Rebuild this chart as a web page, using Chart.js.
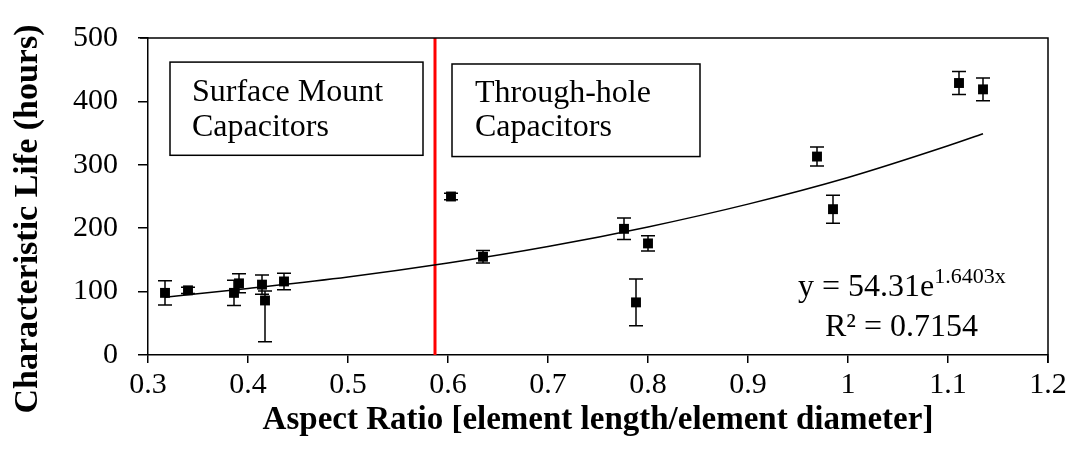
<!DOCTYPE html>
<html>
<head>
<meta charset="utf-8">
<script src="https://cdn.jsdelivr.net/npm/chart.js@4/dist/chart.umd.min.js"></script>
<style>
  html, body { margin: 0; padding: 0; background: #fff; }
  #wrap { width: 1073px; height: 459px; }
</style>
</head>
<body>
<div id="wrap"><canvas id="c" width="1073" height="459"></canvas></div>
<script>
// ---- data ----
const aspectRatio = [0.317, 0.340, 0.386, 0.391, 0.414, 0.417, 0.436, 0.603, 0.635, 0.776, 0.788, 0.800, 0.969, 0.985, 1.111, 1.135];
const charLife    = [98, 102, 98, 113, 111, 86, 116, 250, 155, 199, 83, 176, 313, 230, 429, 419];
const errPlus     = [19, 5, 20, 15, 15, 15, 13, 5, 10, 17, 37, 12, 15, 22, 18, 18];
const errMinus    = [19, 5, 20, 15, 15, 65, 13, 5, 10, 17, 37, 12, 15, 22, 18, 18];

// exponential trendline, values
const trendX = [0.317, 0.4, 0.5, 0.6, 0.7, 0.8, 0.9, 1.0, 1.1, 1.135];
const trendY = [91, 105, 123, 145, 171, 202, 238, 280, 330, 349];

// boundary between SMD and through-hole
const boundaryX = [0.587, 0.587];
const boundaryY = [0, 500];

const xTicks = [0.3, 0.4, 0.5, 0.6, 0.7, 0.8, 0.9, 1.0, 1.1, 1.2];
const yTicks = [0, 100, 200, 300, 400, 500];

const xTitle = 'Aspect Ratio [element length/element diameter]';
const yTitle = 'Characteristic Life (hours)';
const leftLabel = ['Surface Mount', 'Capacitors'];
const rightLabel = ['Through-hole', 'Capacitors'];
const eqMain = 'y = 54.31e';
const eqExp = '1.6403x';
const r2Text = 'R\u00B2 = 0.7154';

const SERIF = '"Liberation Serif", "Times New Roman", serif';

const points = aspectRatio.map((x, i) => ({ x, y: charLife[i] }));
const trend = trendX.map((x, i) => ({ x, y: trendY[i] }));
const boundary = boundaryX.map((x, i) => ({ x, y: boundaryY[i] }));

const errorBars = {
  id: 'errorBars',
  afterDatasetsDraw(chart) {
    const xs = chart.scales.x, ys = chart.scales.y;
    const ctx = chart.ctx;
    ctx.save();
    ctx.strokeStyle = '#000';
    ctx.lineWidth = 1.5;
    aspectRatio.forEach((xv, i) => {
      const px = xs.getPixelForValue(xv);
      const top = ys.getPixelForValue(charLife[i] + errPlus[i]);
      const bot = ys.getPixelForValue(charLife[i] - errMinus[i]);
      ctx.beginPath();
      ctx.moveTo(px, top); ctx.lineTo(px, bot);
      ctx.moveTo(px - 7, top); ctx.lineTo(px + 7, top);
      ctx.moveTo(px - 7, bot); ctx.lineTo(px + 7, bot);
      ctx.stroke();
    });
    ctx.restore();
  }
};

const frameAndNotes = {
  id: 'frameAndNotes',
  afterDraw(chart) {
    const ctx = chart.ctx;
    const a = chart.chartArea;
    const xs = chart.scales.x, ys = chart.scales.y;
    ctx.save();
    ctx.strokeStyle = '#000';
    ctx.lineWidth = 1.5;
    // top and right frame
    ctx.beginPath();
    ctx.moveTo(a.left - 8, a.top); ctx.lineTo(a.right, a.top); ctx.lineTo(a.right, a.bottom + 8);
    ctx.stroke();

    // y axis title
    ctx.save();
    ctx.fillStyle = '#000';
    ctx.font = 'bold 34px ' + SERIF;
    ctx.textAlign = 'center';
    ctx.textBaseline = 'middle';
    ctx.translate(28, 219);
    ctx.rotate(-Math.PI / 2);
    ctx.fillText(yTitle, 0, 0);
    ctx.restore();

    // text boxes
    const box = (x0, x1, y0, y1) => {
      const l = xs.getPixelForValue(x0), r = xs.getPixelForValue(x1);
      const t = ys.getPixelForValue(y0), b = ys.getPixelForValue(y1);
      ctx.strokeRect(l, t, r - l, b - t);
    };
    box(0.322, 0.575, 462, 315);
    box(0.604, 0.852, 459, 313);

    ctx.fillStyle = '#000';
    ctx.font = '32px ' + SERIF;
    ctx.textBaseline = 'alphabetic';
    ctx.textAlign = 'left';
    const lx = xs.getPixelForValue(0.344), rx = xs.getPixelForValue(0.627);
    ctx.fillText(leftLabel[0], lx, ys.getPixelForValue(401));
    ctx.fillText(leftLabel[1], lx, ys.getPixelForValue(346));
    ctx.fillText(rightLabel[0], rx, ys.getPixelForValue(399));
    ctx.fillText(rightLabel[1], rx, ys.getPixelForValue(345));

    // equation
    const ex = xs.getPixelForValue(0.950);
    const ey = ys.getPixelForValue(93);
    ctx.fillText(eqMain, ex, ey);
    const w = ctx.measureText(eqMain).width;
    ctx.font = '22px ' + SERIF;
    ctx.fillText(eqExp, ex + w, ey - 13);
    ctx.font = '32px ' + SERIF;
    ctx.fillText(r2Text, xs.getPixelForValue(0.977), ys.getPixelForValue(30));
    ctx.restore();
  }
};

new Chart(document.getElementById('c'), {
  type: 'scatter',
  data: {
    datasets: [
      {
        type: 'line', data: trend, borderColor: '#000', borderWidth: 1.5,
        pointRadius: 0, fill: false, tension: 0.4, cubicInterpolationMode: 'monotone'
      },
      {
        type: 'line', data: boundary, borderColor: '#ff0000', borderWidth: 3,
        pointRadius: 0, fill: false, clip: false
      },
      {
        data: points, pointStyle: 'rect', pointRadius: 7, pointBorderWidth: 0,
        backgroundColor: '#000', borderColor: '#000'
      }
    ]
  },
  options: {
    responsive: false,
    animation: false,
    events: [],
    layout: { padding: { top: 23, right: 25, left: 0, bottom: 0 } },
    plugins: { legend: { display: false }, tooltip: { enabled: false } },
    scales: {
      x: {
        type: 'linear', min: 0.3, max: 1.2,
        afterBuildTicks: s => { s.ticks = xTicks.map(v => ({ value: v })); },
        afterFit: s => { s.height = 104; },
        grid: { drawOnChartArea: false, drawTicks: true, tickLength: 8, color: '#000', lineWidth: 1.5 },
        border: { color: '#000', width: 1.5 },
        ticks: {
          color: '#000', padding: 4, maxRotation: 0, autoSkip: false,
          font: { family: SERIF, size: 30 },
          callback: v => String(Number(v.toFixed(1)))
        },
        title: {
          display: true, text: xTitle, color: '#000',
          font: { family: SERIF, size: 33, weight: 'bold' },
          padding: { top: 0, bottom: 19 }
        }
      },
      y: {
        type: 'linear', min: 0, max: 500,
        afterBuildTicks: s => { s.ticks = yTicks.map(v => ({ value: v })); },
        afterFit: s => { s.width = 148; },
        grid: { drawOnChartArea: false, drawTicks: true, tickLength: 10, color: '#000', lineWidth: 1.5 },
        border: { color: '#000', width: 1.5 },
        ticks: {
          color: '#000', padding: 20, autoSkip: false,
          font: { family: SERIF, size: 30 }
        },
        title: { display: false }
      }
    }
  },
  plugins: [errorBars, frameAndNotes]
});
</script>
</body>
</html>
